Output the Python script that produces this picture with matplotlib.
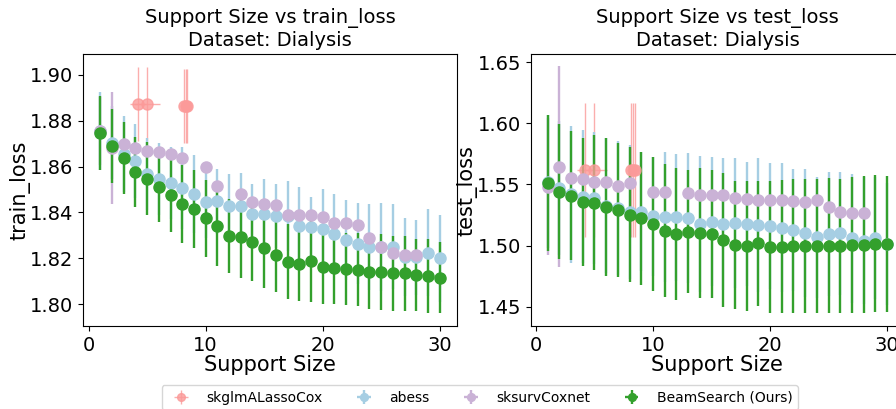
import numpy as np
import matplotlib
matplotlib.use('Agg')
import matplotlib.pyplot as plt

# support sizes 1..30
support = list(range(1, 31))

# ---- train_loss (left panel) ----
beam_train = [1.8746, 1.8690, 1.8639, 1.8578, 1.8548, 1.8513, 1.8475, 1.8439, 1.8414, 1.8374,
              1.8341, 1.8298, 1.8292, 1.8273, 1.8244, 1.8215, 1.8185, 1.8174, 1.8190, 1.8164,
              1.8157, 1.8153, 1.8150, 1.8142, 1.8140, 1.8135, 1.8134, 1.8128, 1.8123, 1.8116]
beam_train_err = [0.0161, 0.0163, 0.0157, 0.0153, 0.0160, 0.0155, 0.0158, 0.0170, 0.0170, 0.0168,
                  0.0174, 0.0160, 0.0179, 0.0170, 0.0174, 0.0164, 0.0163, 0.0160, 0.0179, 0.0163,
                  0.0156, 0.0158, 0.0160, 0.0163, 0.0164, 0.0163, 0.0163, 0.0158, 0.0160, 0.0156]
abess_train = [1.8757, 1.8705, 1.8655, 1.8625, 1.8568, 1.8546, 1.8530, 1.8506, 1.8480, 1.8447,
               1.8448, 1.8429, 1.8429, 1.8394, 1.8394, 1.8385, 1.8385, 1.8341, 1.8338, 1.8327,
               1.8306, 1.8280, 1.8263, 1.8249, 1.8251, 1.8251, 1.8206, 1.8205, 1.8225, 1.8200]
abess_train_err = [0.0170, 0.0160, 0.0166, 0.0160, 0.0156, 0.0156, 0.0157, 0.0180, 0.0170, 0.0160,
                   0.0141, 0.0139, 0.0145, 0.0131, 0.0152, 0.0140, 0.0154, 0.0168, 0.0131, 0.0175,
                   0.0173, 0.0175, 0.0177, 0.0188, 0.0192, 0.0186, 0.0169, 0.0163, 0.0189, 0.0189]
nan = np.nan
coxnet_train = [1.8755, 1.8680, 1.8698, 1.8680, 1.8666, 1.8663, 1.8654, 1.8639, nan, 1.8600,
                1.8516, nan, 1.8481, 1.8445, 1.8437, 1.8434, 1.8389, 1.8389, 1.8389, 1.8382,
                1.8353, 1.8353, 1.8346, 1.8288, 1.8251, 1.8222, 1.8215, 1.8215, nan, nan]
coxnet_train_err = [0.0150, 0.0245] + [0.0] * 28

skglm_support = [4.2, 5.0, 8.15, 8.3, 8.45]
skglm_support_err = [0.7, 1.1, 0.0, 0.0, 0.0]
skglm_train = [1.8874, 1.8874, 1.8865, 1.8865, 1.8865]
skglm_train_err = [0.0162, 0.0162, 0.0162, 0.0162, 0.0162]

# ---- test_loss (right panel) ----
beam_test = [1.5510, 1.5441, 1.5409, 1.5360, 1.5352, 1.5314, 1.5292, 1.5251, 1.5224, 1.5177,
             1.5122, 1.5095, 1.5114, 1.5106, 1.5095, 1.5046, 1.5005, 1.4997, 1.5019, 1.4992,
             1.4992, 1.4997, 1.4997, 1.4997, 1.4997, 1.4997, 1.5005, 1.5005, 1.5014, 1.5014]
beam_test_err = [0.0557, 0.0555, 0.0530, 0.0524, 0.0550, 0.0562, 0.0548, 0.0552, 0.0545, 0.0548,
                 0.0543, 0.0538, 0.0504, 0.0532, 0.0525, 0.0550, 0.0526, 0.0535, 0.0510, 0.0540,
                 0.0545, 0.0545, 0.0545, 0.0550, 0.0552, 0.0550, 0.0555, 0.0560, 0.0560, 0.0555]
abess_test = [1.5523, 1.5469, 1.5420, 1.5400, 1.5387, 1.5327, 1.5305, 1.5273, 1.5278, 1.5240,
              1.5232, 1.5232, 1.5224, 1.5177, 1.5196, 1.5177, 1.5183, 1.5177, 1.5169, 1.5161,
              1.5146, 1.5128, 1.5101, 1.5068, 1.5095, 1.5101, 1.5060, 1.5041, 1.5060, 1.5015]
abess_test_err = [0.0546, 0.0550, 0.0560, 0.0546, 0.0540, 0.0550, 0.0550, 0.0550, 0.0490, 0.0488,
                  0.0530, 0.0520, 0.0530, 0.0556, 0.0530, 0.0537, 0.0530, 0.0510, 0.0545, 0.0513,
                  0.0526, 0.0497, 0.0524, 0.0496, 0.0510, 0.0504, 0.0526, 0.0523, 0.0500, 0.0500]
coxnet_test = [1.5482, 1.5646, 1.5556, 1.5545, 1.5523, 1.5518, 1.5490, 1.5510, nan, 1.5441,
               1.5441, nan, 1.5433, 1.5415, 1.5415, 1.5415, 1.5387, 1.5379, 1.5374, 1.5374,
               1.5371, 1.5368, 1.5360, 1.5374, 1.5319, 1.5278, 1.5270, 1.5265, nan, nan]
coxnet_test_err = [0.0560, 0.0820] + [0.0] * 28
skglm_test = [1.5619, 1.5619, 1.5619, 1.5619, 1.5619]
skglm_test_err = [0.0545, 0.0545, 0.0545, 0.0545, 0.0545]

labels = ['skglmALassoCox', 'abess', 'sksurvCoxnet', 'BeamSearch (Ours)']
colors = ['#fb9a99', '#a6cee3', '#cab2d6', '#33a02c']

fig = plt.figure(figsize=(8.96, 4.09), dpi=100)
ax1 = fig.add_axes([0.093, 0.203, 0.4167, 0.6643])
ax2 = fig.add_axes([0.5923, 0.203, 0.4167, 0.6643])

zeros = [0.0] * 30
style = dict(fmt='o', ms=8, elinewidth=1.7, capsize=0)


def draw(ax, skglm, skglm_err, abess, abess_err, coxnet, coxnet_err, beam, beam_err, metric):
    handles = []
    # skglm points sit close together, thinner see-through bars
    handles.append(ax.errorbar(skglm_support, skglm, yerr=skglm_err, xerr=skglm_support_err,
                               color=colors[0], label=labels[0], alpha=0.8,
                               fmt='o', ms=8, elinewidth=1.0, capsize=0))
    handles.append(ax.errorbar(support, abess, yerr=abess_err, xerr=zeros,
                               color=colors[1], label=labels[1], **style))
    handles.append(ax.errorbar(support, coxnet, yerr=coxnet_err, xerr=zeros,
                               color=colors[2], label=labels[2], **style))
    handles.append(ax.errorbar(support, beam, yerr=beam_err, xerr=zeros,
                               color=colors[3], label=labels[3], **style))
    ax.set_title('Support Size vs ' + metric + '\nDataset: Dialysis', fontsize=14)
    ax.set_xlabel('Support Size', fontsize=15, labelpad=0)
    ax.set_ylabel(metric, fontsize=15, labelpad=0)
    ax.tick_params(labelsize=14)
    ax.set_xticks([0, 10, 20, 30])
    return handles


handles = draw(ax1, skglm_train, skglm_train_err, abess_train, abess_train_err,
               coxnet_train, coxnet_train_err, beam_train, beam_train_err, 'train_loss')
draw(ax2, skglm_test, skglm_test_err, abess_test, abess_test_err,
     coxnet_test, coxnet_test_err, beam_test, beam_test_err, 'test_loss')

ax1.set_ylim(1.7905, 1.909)
ax1.set_yticks([1.80, 1.82, 1.84, 1.86, 1.88, 1.90])
ax1.set_yticklabels(['1.80', '1.82', '1.84', '1.86', '1.88', '1.90'])
ax2.set_ylim(1.4342, 1.6565)
ax2.set_yticks([1.45, 1.50, 1.55, 1.60, 1.65])
ax2.set_yticklabels(['1.45', '1.50', '1.55', '1.60', '1.65'])
for ax in (ax1, ax2):
    ax.set_xlim(-0.45, 31.45)

fig.legend(handles, labels, ncol=4, fontsize=10, loc='upper center', borderaxespad=0,
           markerscale=0.7,
           bbox_to_anchor=(0.5354, 0.0587), bbox_transform=fig.transFigure)

fig.savefig('out.png', dpi=100)
